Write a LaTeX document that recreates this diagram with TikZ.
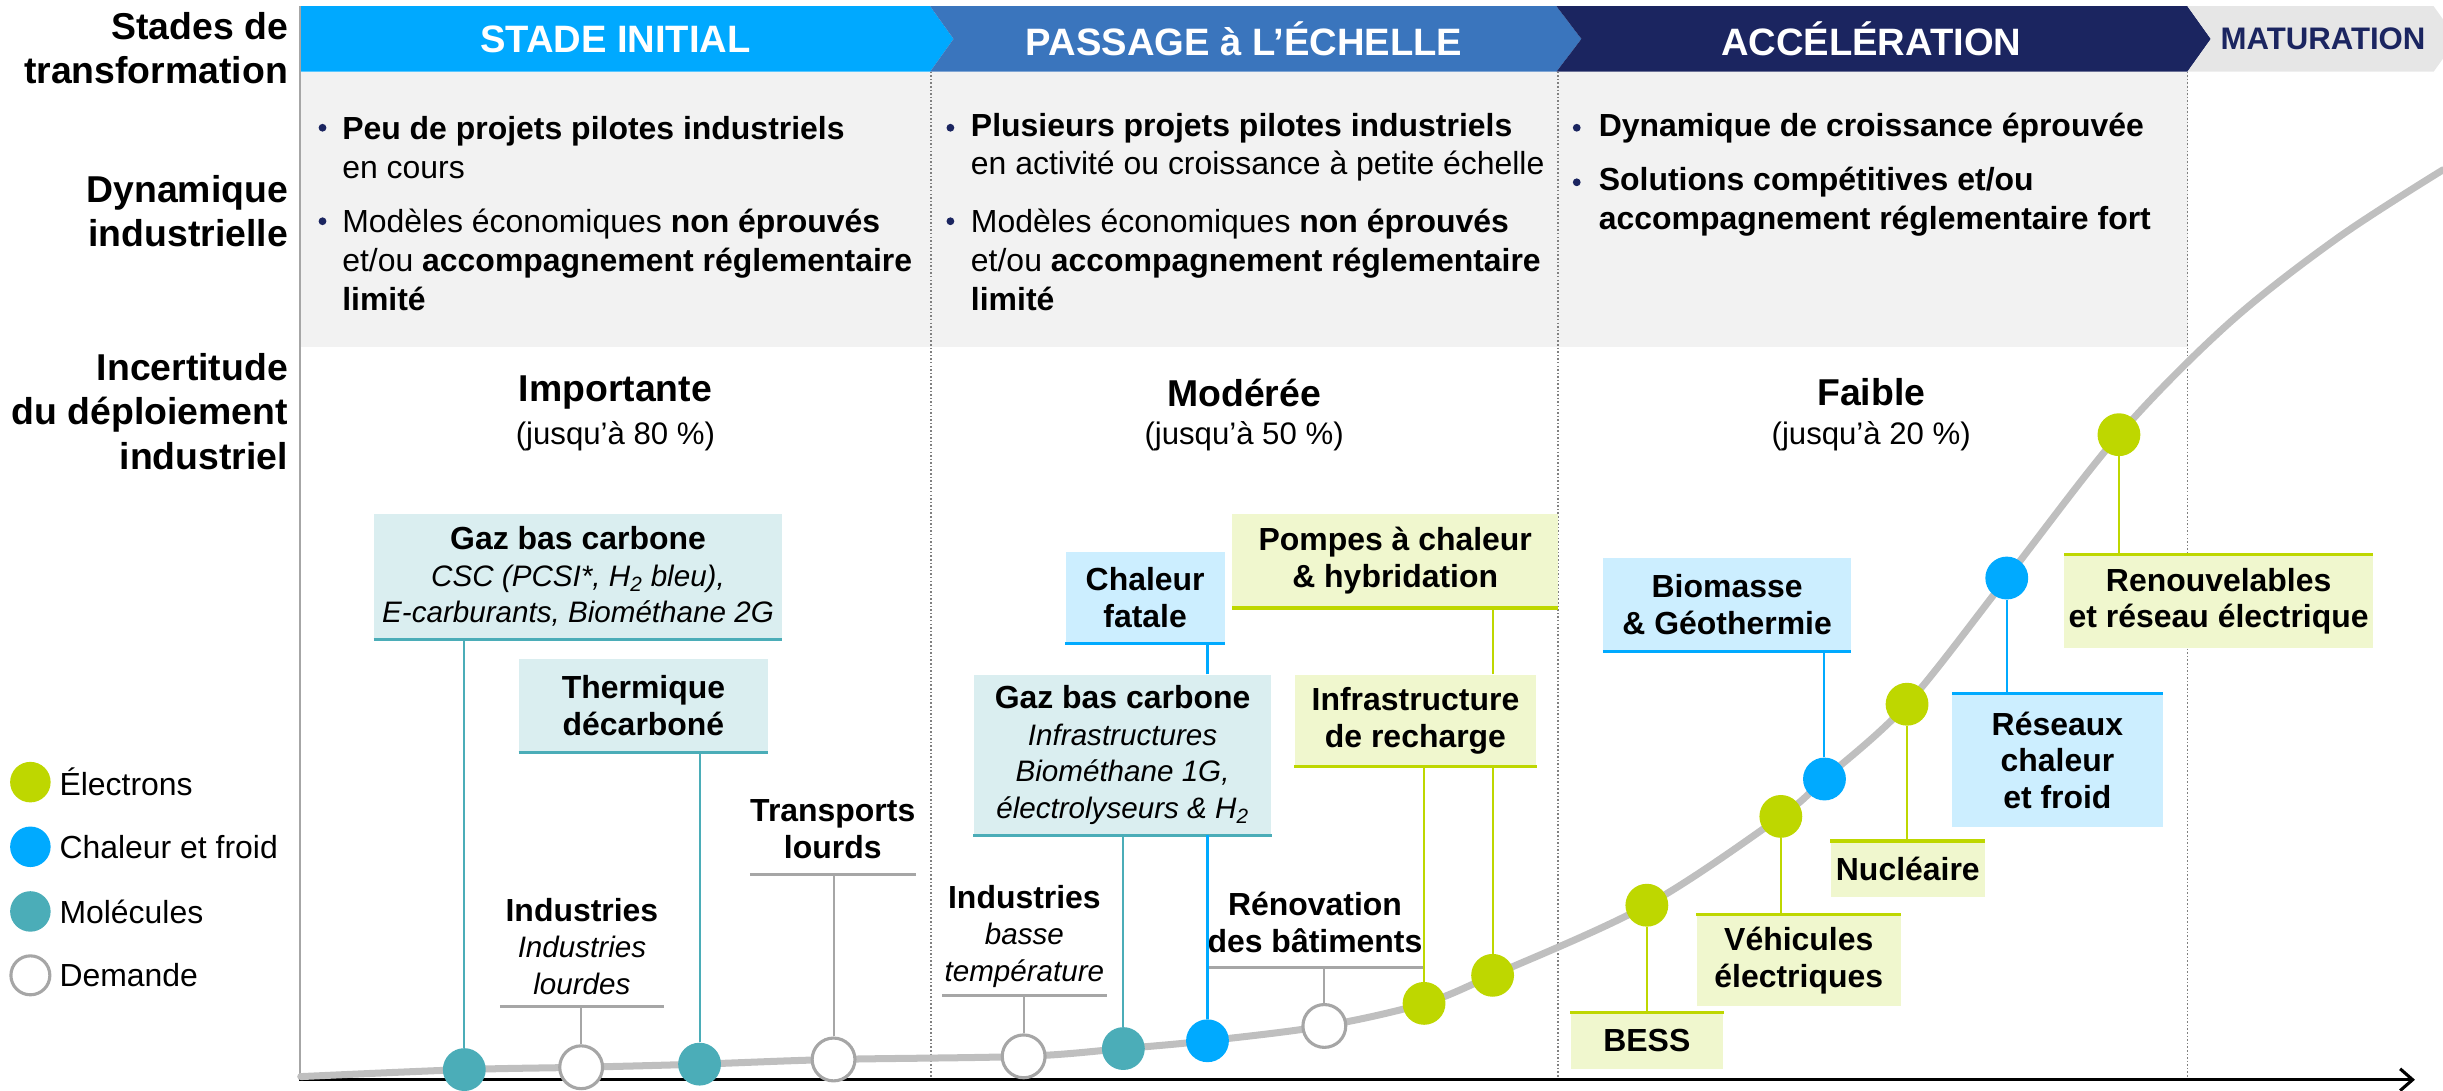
\documentclass[tikz,border=0pt]{standalone}
\usepackage{fontspec}
\setmainfont{Liberation Sans}
\usetikzlibrary{arrows.meta}

\definecolor{bleuInit}{RGB}{0,169,255}
\definecolor{bleuPass}{RGB}{58,117,189}
\definecolor{marine}{RGB}{27,37,96}
\definecolor{grisMat}{RGB}{230,230,230}
\definecolor{grisBande}{RGB}{242,242,242}
\definecolor{grisCourbe}{RGB}{191,191,191}
\definecolor{grisDem}{RGB}{166,166,166}
\definecolor{grisPoint}{RGB}{128,128,128}
\definecolor{vert}{RGB}{190,215,0}
\definecolor{vertFond}{RGB}{240,247,206}
\definecolor{bleuCh}{RGB}{0,170,255}
\definecolor{bleuFond}{RGB}{204,238,255}
\definecolor{sarcelle}{RGB}{75,173,184}
\definecolor{sarcFond}{RGB}{218,238,240}

\newcommand{\sousTitre}[1]{{\fontsize{19}{23.5}\selectfont\mdseries\itshape #1}}

\tikzset{
	pastille/.style={circle, minimum size=27.5, inner sep=0},
	elec/.style={pastille, fill=vert},
	chal/.style={pastille, fill=bleuCh},
	mol/.style={pastille, fill=sarcelle},
	dem/.style={pastille, fill=white, draw=grisDem, line width=2},
	puce/.style={circle, fill=marine, inner sep=0, minimum size=5},
	texte/.style={inner sep=0, align=left, anchor=west, font=\fontsize{20.5}{25}\selectfont},
	rubrique/.style={inner sep=0, align=right, anchor=east, font=\fontsize{24}{28.5}\selectfont\bfseries},
	entete/.style={inner sep=0, font=\fontsize{24.5}{29}\selectfont\bfseries},
	niveau/.style={inner sep=0, font=\fontsize{24}{28}\selectfont\bfseries},
	boite/.style={inner sep=0, align=center, font=\fontsize{20.5}{23.5}\selectfont\bfseries},
	trait/.style={line width=2},
	lien/.style={line width=1.3},
	pointille/.style={grisPoint, line width=0.9, dash pattern=on 1pt off 1.3pt},
	courbe/.style={grisCourbe, line width=4.5, line cap=round}
}

\begin{document}
\begin{tikzpicture}[x=1pt, y=-1pt]
		%%%%% START %%%%%
		\useasboundingbox (0,0) rectangle (1568,700);
		
		% bande grise et fleches des stades
		\fill[grisBande] (192,46) rectangle (1404,223);
		\fill[bleuInit] (192,4) -- (597,4) -- (612,25) -- (597,46) -- (192,46) -- cycle;
		\fill[bleuPass] (597,4) -- (999,4) -- (1015,25) -- (999,46) -- (597,46) -- (612,25) -- cycle;
		\fill[marine] (999,4) -- (1404,4) -- (1419,25) -- (1404,46) -- (999,46) -- (1015,25) -- cycle;
		\fill[grisMat] (1404,4) -- (1562,4) -- (1577,25) -- (1562,46) -- (1404,46) -- (1419,25) -- cycle;
		
		\node[entete, text=white] (tInit) at (395,25) {STADE INITIAL};
		\node[entete, text=white] (tPass) at (798.5,25) {PASSAGE à L’ÉCHELLE};
		\node[entete, text=white] (tAcc) at (1201,25) {ACCÉLÉRATION};
		\node[entete, text=marine, font=\fontsize{20}{24}\selectfont\bfseries] (tMat) at (1491,25) {MATURATION};
		
		% rubriques de gauche
		\node[rubrique] (rStades) at (185,31) {Stades de\\transformation};
		\node[rubrique] (rDyn) at (185,135.5) {Dynamique\\industrielle};
		\node[rubrique] (rInc) at (185,264) {Incertitude\\du déploiement\\industriel};
		
		% dynamique industrielle
		\node[puce] (p1) at (207,82) {};
		\node[texte] (d1) at (219.5,94.5) {\textbf{Peu de projets pilotes industriels}\\en cours};
		\node[puce] (p2) at (207,142) {};
		\node[texte] (d2) at (219.5,167) {Modèles économiques \textbf{non éprouvés}\\et/ou \textbf{accompagnement réglementaire}\\\textbf{limité}};
		\node[puce] (p3) at (610,82) {};
		\node[texte] (d3) at (623,94.5) {\textbf{Plusieurs projets pilotes industriels}\\en activité ou croissance à petite échelle};
		\node[puce] (p4) at (610,142) {};
		\node[texte] (d4) at (623,167) {Modèles économiques \textbf{non éprouvés}\\et/ou \textbf{accompagnement réglementaire}\\\textbf{limité}};
		\node[puce] (p5) at (1012,82) {};
		\node[texte] (d5) at (1026,82) {\textbf{Dynamique de croissance éprouvée}};
		\node[puce] (p6) at (1012,117) {};
		\node[texte] (d6) at (1026,129.5) {\textbf{Solutions compétitives et/ou}\\\textbf{accompagnement réglementaire fort}};
		
		% incertitude
		\node[niveau] (iFort) at (395,252) {Importante};
		\node[inner sep=0, font=\fontsize{20}{24}\selectfont] (iFortPc) at (395,280) {(jusqu’à 80 \%)};
		\node[niveau] (iMoy) at (798.5,252) {Modérée};
		\node[inner sep=0, font=\fontsize{20}{24}\selectfont] (iMoyPc) at (798.5,280) {(jusqu’à 50 \%)};
		\node[niveau] (iBas) at (1201,252) {Faible};
		\node[inner sep=0, font=\fontsize{20}{24}\selectfont] (iBasPc) at (1201,280) {(jusqu’à 20 \%)};
		
		% separations et axes
		\draw[pointille] (597.5,46) -- (597.5,692);
		\draw[pointille] (1000,46) -- (1000,692);
		\draw[pointille] (1404,46) -- (1404,692);
		\draw[line width=1.5, color=grisDem] (192.5,4) -- (192.5,693);
		\draw[line width=2, -{Straight Barb[length=8pt, width=14pt]}] (192,693) -- (1550,693);
		
		\draw[courbe] plot[smooth, tension=0.55] coordinates {(193,691) (298,686.5) (373,685) (449,683) (535,680) (657,678) (721,673) (775,668) (850,658.5) (914,644) (958,626) (1057,581) (1143,524) (1171,500) (1224,452) (1288,371) (1360,279) (1430,208) (1500,153) (1568,109)};
		
		% boites
		\node[boite, fill=sarcFond, minimum width=262, minimum height=80] (gaz1) at (371,370) {Gaz bas carbone\\\sousTitre{CSC (PCSI*, H\textsubscript{2} bleu),}\\\sousTitre{E-carburants, Biométhane 2G}};
		\draw[trait, sarcelle] (gaz1.south west) -- (gaz1.south east);
		\node[boite, fill=sarcFond, minimum width=160, minimum height=60] (therm) at (413,453) {Thermique\\décarboné};
		\draw[trait, sarcelle] (therm.south west) -- (therm.south east);
		\node[boite, fill=bleuFond, minimum width=102, minimum height=59] (fatale) at (735,383.5) {Chaleur\\fatale};
		\draw[trait, bleuCh] (fatale.south west) -- (fatale.south east);
		\node[boite, fill=vertFond, minimum width=209, minimum height=60] (pac) at (895.5,360) {Pompes à chaleur\\\& hybridation};
		\draw[trait, vert] (pac.south west) -- (pac.south east);
		\node[boite, fill=sarcFond, minimum width=191, minimum height=103] (gaz2) at (720.5,484.5) {Gaz bas carbone\\\sousTitre{Infrastructures}\\\sousTitre{Biométhane 1G,}\\\sousTitre{électrolyseurs \& H\textsubscript{2}}};
		\draw[trait, sarcelle] (gaz2.south west) -- (gaz2.south east);
		\node[boite, fill=vertFond, minimum width=155, minimum height=59] (infra) at (908.5,462.5) {Infrastructure\\de recharge};
		\draw[trait, vert] (infra.south west) -- (infra.south east);
		\node[boite, fill=bleuFond, minimum width=159, minimum height=60] (bio) at (1108.5,388) {Biomasse\\\& Géothermie};
		\draw[trait, bleuCh] (bio.south west) -- (bio.south east);
		\node[boite, fill=vertFond, minimum width=198, minimum height=60] (renouv) at (1424,386) {Renouvelables\\et réseau électrique};
		\draw[trait, vert] (renouv.north west) -- (renouv.north east);
		\node[boite, fill=bleuFond, minimum width=135, minimum height=85] (reseaux) at (1320.5,488) {Réseaux\\chaleur\\et froid};
		\draw[trait, bleuCh] (reseaux.north west) -- (reseaux.north east);
		\node[boite, fill=vertFond, minimum width=99, minimum height=36] (nuc) at (1224.5,558) {Nucléaire};
		\draw[trait, vert] (nuc.north west) -- (nuc.north east);
		\node[boite, fill=vertFond, minimum width=131, minimum height=59] (vehic) at (1154.5,616.5) {Véhicules\\électriques};
		\draw[trait, vert] (vehic.north west) -- (vehic.north east);
		\node[boite, fill=vertFond, minimum width=98, minimum height=36] (bess) at (1057,668) {BESS};
		\draw[trait, vert] (bess.north west) -- (bess.north east);
		
		% demande
		\node[boite, minimum width=105, minimum height=77] (indL) at (373.5,607.5) {Industries\\\sousTitre{Industries}\\\sousTitre{lourdes}};
		\draw[trait, grisDem] (indL.south west) -- (indL.south east);
		\node[boite, minimum width=105, minimum height=58] (transp) at (534.5,532) {Transports\\lourds};
		\draw[trait, grisDem] (transp.south west) -- (transp.south east);
		\node[boite, minimum width=105, minimum height=76] (indB) at (657.5,601) {Industries\\\sousTitre{basse}\\\sousTitre{température}};
		\draw[trait, grisDem] (indB.south west) -- (indB.south east);
		\node[boite, minimum width=132, minimum height=58] (reno) at (844,592) {Rénovation\\des bâtiments};
		\draw[trait, grisDem] (reno.south west) -- (reno.south east);
		
		% pastilles sur la courbe
		\node[mol] (cGaz1) at (298,686.5) {};
		\node[dem] (cIndL) at (373,685) {};
		\node[mol] (cTherm) at (449,683) {};
		\node[dem] (cTransp) at (535,680) {};
		\node[dem] (cIndB) at (657,678) {};
		\node[mol] (cGaz2) at (721,673) {};
		\node[chal] (cFatale) at (775,668) {};
		\node[dem] (cReno) at (850,658.5) {};
		\node[elec] (cInfra) at (914,644) {};
		\node[elec] (cPac) at (958,626) {};
		\node[elec] (cBess) at (1057,581) {};
		\node[elec] (cVehic) at (1143,524) {};
		\node[chal] (cBio) at (1171,500) {};
		\node[elec] (cNuc) at (1224,452) {};
		\node[chal] (cReseaux) at (1288,371) {};
		\node[elec] (cRenouv) at (1360,279) {};
		
		% liens
		\draw[lien, sarcelle] (cGaz1) -- (cGaz1 |- gaz1.south);
		\draw[lien, sarcelle] (cTherm) -- (cTherm |- therm.south);
		\draw[lien, sarcelle] (cGaz2) -- (cGaz2 |- gaz2.south);
		\draw[lien, bleuCh] (cFatale) -- (cFatale |- gaz2.south);
		\draw[lien, bleuCh] (cFatale |- gaz2.north) -- (cFatale |- fatale.south);
		\draw[lien, vert] (cInfra) -- (cInfra |- infra.south);
		\draw[lien, vert] (cPac) -- (cPac |- infra.south);
		\draw[lien, vert] (cPac |- infra.north) -- (cPac |- pac.south);
		\draw[lien, bleuCh] (cBio) -- (cBio |- bio.south);
		\draw[lien, vert] (cRenouv) -- (cRenouv |- renouv.north);
		\draw[lien, bleuCh] (cReseaux) -- (cReseaux |- reseaux.north);
		\draw[lien, vert] (cNuc) -- (cNuc |- nuc.north);
		\draw[lien, vert] (cVehic) -- (cVehic |- vehic.north);
		\draw[lien, vert] (cBess) -- (cBess |- bess.north);
		\draw[lien, grisDem] (cIndL) -- (cIndL |- indL.south);
		\draw[lien, grisDem] (cTransp) -- (cTransp |- transp.south);
		\draw[lien, grisDem] (cIndB) -- (cIndB |- indB.south);
		\draw[lien, grisDem] (cReno) -- (cReno |- reno.south);
		
		% legende
		\node[elec, minimum size=26] (lElec) at (19.5,502) {};
		\node[texte] (tElec) at (38,502) {Électrons};
		\node[chal, minimum size=26] (lChal) at (19.5,543.5) {};
		\node[texte] (tChal) at (38,543.5) {Chaleur et froid};
		\node[mol, minimum size=26] (lMol) at (19.5,585) {};
		\node[texte] (tMol) at (38,585) {Molécules};
		\node[dem, minimum size=25] (lDem) at (19.5,626) {};
		\node[texte] (tDem) at (38,626) {Demande};
		
		%%%%% END %%%%%
	\end{tikzpicture}
\end{document}
